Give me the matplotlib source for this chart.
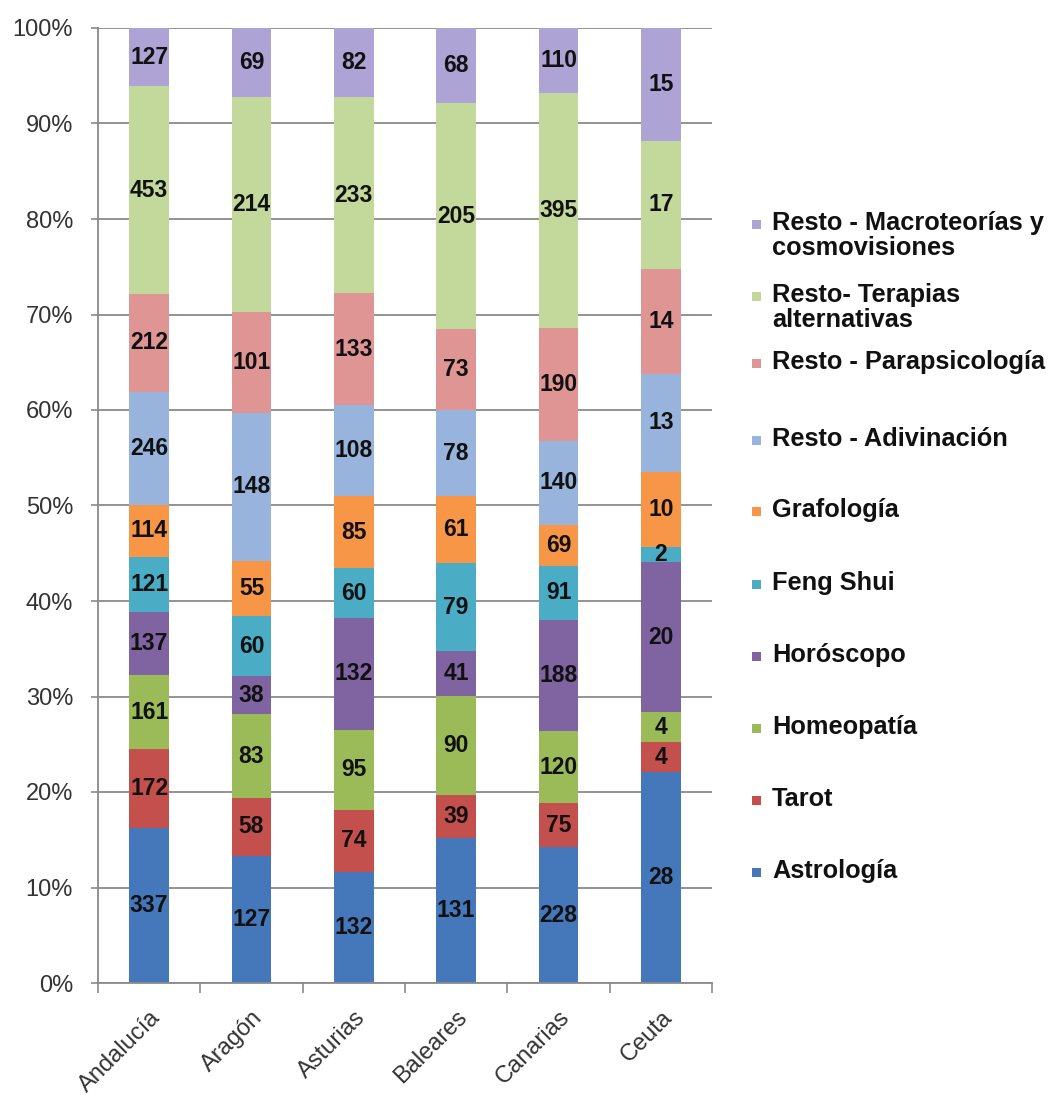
import matplotlib
matplotlib.use("Agg")
import matplotlib.pyplot as plt
from matplotlib.patches import Rectangle
import numpy as np

plt.rcParams['font.family'] = ['Liberation Sans', 'DejaVu Sans']

regions = ["Andalucía", "Aragón", "Asturias", "Baleares", "Canarias", "Ceuta"]

series_names = [
    "Astrología", "Tarot", "Homeopatía", "Horóscopo", "Feng Shui", "Grafología",
    "Resto - Adivinación", "Resto - Parapsicología",
    "Resto- Terapias\nalternativas", "Resto - Macroteorías y\ncosmovisiones",
]

astrologia = [337, 127, 132, 131, 228, 28]
tarot = [172, 58, 74, 39, 75, 4]
homeopatia = [161, 83, 95, 90, 120, 4]
horoscopo = [137, 38, 132, 41, 188, 20]
feng_shui = [121, 60, 60, 79, 91, 2]
grafologia = [114, 55, 85, 61, 69, 10]
resto_adivinacion = [246, 148, 108, 78, 140, 13]
resto_parapsicologia = [212, 101, 133, 73, 190, 14]
resto_terapias = [453, 214, 233, 205, 395, 17]
resto_macroteorias = [127, 69, 82, 68, 110, 15]

series_values = [astrologia, tarot, homeopatia, horoscopo, feng_shui, grafologia,
                 resto_adivinacion, resto_parapsicologia, resto_terapias, resto_macroteorias]

colors = ["#4578bb", "#c4504e", "#9bbb59", "#8064a2", "#4bacc6", "#f79646",
          "#98b4dc", "#de9593", "#c3d89b", "#ada3d4"]

y_ticks = [0, 10, 20, 30, 40, 50, 60, 70, 80, 90, 100]
y_tick_labels = [f"{t}%" for t in y_ticks]

W, H = 1051, 1095
fig = plt.figure(figsize=(W / 100, H / 100), dpi=100)
ax = fig.add_axes([98 / W, 1 - 983 / H, (712 - 98) / W, (983 - 28) / H])

data = np.array(series_values, dtype=float)
totals = data.sum(axis=0)
pct = data / totals * 100
x = np.arange(len(regions))
bottom = np.zeros(len(regions))
for vals, p, col in zip(series_values, pct, colors):
    ax.bar(x, p, width=0.39, bottom=bottom, color=col, edgecolor='none', zorder=2)
    for xi, b, h, v in zip(x, bottom, p, vals):
        ax.text(xi, b + h / 2, str(v), ha='center', va='center',
                fontsize=16.5, fontweight='bold', color='#111111', zorder=3)
    bottom += p

ax.set_xlim(-0.5, len(regions) - 0.5)
ax.set_ylim(0, 100)
ax.set_yticks(y_ticks)
ax.set_yticklabels(y_tick_labels)
ax.yaxis.grid(True, color='#8a8a8a', linewidth=1.3, zorder=0)
ax.set_axisbelow(True)

ax.set_xticks(np.arange(len(regions) + 1) - 0.5)
ax.set_xticklabels([])
ax.set_xticks(x, minor=True)
ax.set_xticklabels(regions, minor=True, rotation=45, ha='right', rotation_mode='anchor')
ax.tick_params(axis='x', which='minor', length=0, pad=17, labelsize=17, labelcolor='#333333')
ax.tick_params(axis='x', which='major', length=7, width=1.2, color='#8a8a8a')
ax.tick_params(axis='y', length=5, width=1.2, color='#8a8a8a', labelsize=17,
               labelcolor='#333333', pad=13)

for side in ['top', 'right']:
    ax.spines[side].set_visible(False)
for side in ['left', 'bottom']:
    ax.spines[side].set_color('#8a8a8a')
    ax.spines[side].set_linewidth(1.3)

# Legend, listed top to bottom in reverse stacking order
legend_rows = [224, 296, 363, 440, 511, 584, 656, 728, 800, 872]
for name, col, yrow in zip(series_names[::-1], colors[::-1], legend_rows):
    fig.patches.append(Rectangle((752 / W, 1 - (yrow + 5) / H), 9 / W, 9 / H,
                                 transform=fig.transFigure, facecolor=col,
                                 edgecolor='none'))
    fig.text(772 / W, 1 - (yrow - 13) / H, name, ha='left', va='top',
             fontsize=18.3, fontweight='bold', color='#111111', linespacing=1.05)

fig.savefig("out.png", dpi=100, facecolor='white')
